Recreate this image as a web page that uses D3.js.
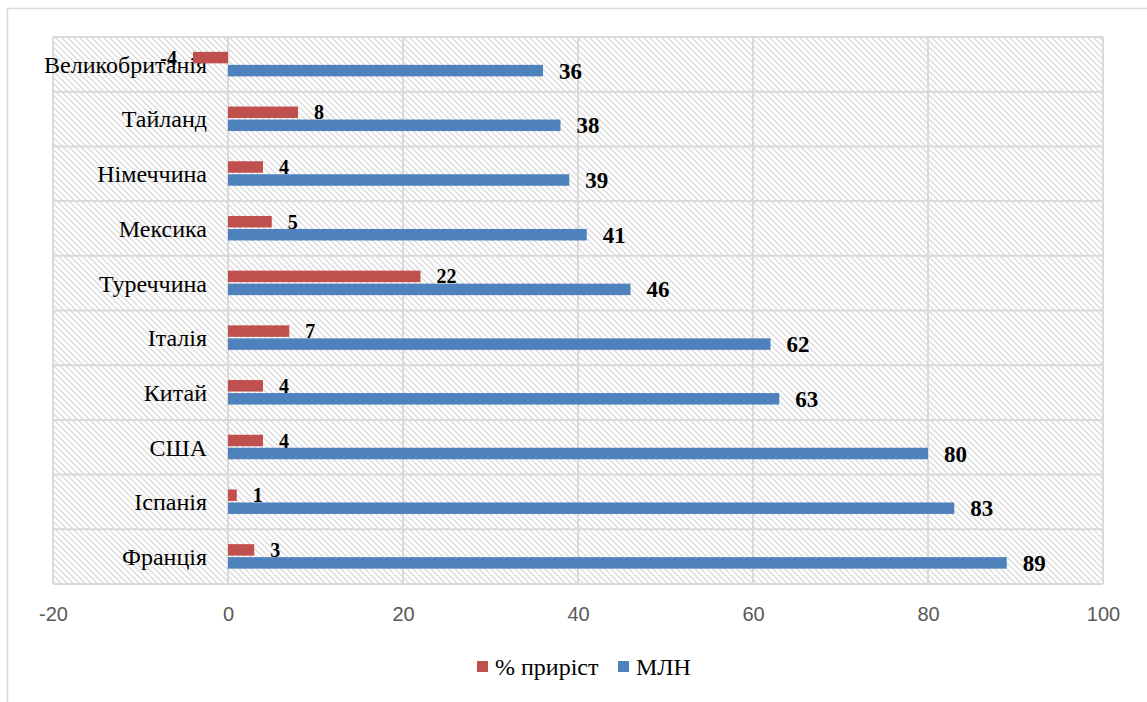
<!DOCTYPE html>
<html><head><meta charset="utf-8">
<script src="https://cdn.jsdelivr.net/npm/d3@7"></script>
<style>body{margin:0;background:#fff}svg{display:block}</style>
</head><body>
<script>
const categories = ["Великобританія","Тайланд","Німеччина","Мексика","Туреччина","Італія","Китай","США","Іспанія","Франція"];
const growth = [-4, 8, 4, 5, 22, 7, 4, 4, 1, 3];
const mln = [36, 38, 39, 41, 46, 62, 63, 80, 83, 89];
const seriesNames = ["% приріст", "МЛН"];
const colors = ["#c0504d", "#4f81bd"];
const xTicks = [-20, 0, 20, 40, 60, 80, 100];

const W = 1147, H = 702;
const svg = d3.select("body").append("svg").attr("width", W).attr("height", H);

// hatch pattern
const defs = svg.append("defs");
const pat = defs.append("pattern").attr("id","hatch").attr("patternUnits","userSpaceOnUse")
  .attr("width",6).attr("height",6);
pat.append("rect").attr("width",6).attr("height",6).attr("fill","#fff");
pat.append("path").attr("d","M-1,-1 L7,7 M-4,2 L1,7 M2,-4 L7,1")
  .attr("stroke","#dcdcdc").attr("stroke-width",1.4);

// outer border
svg.append("rect").attr("x",7.5).attr("y",8.5).attr("width",W+10).attr("height",H+10)
  .attr("fill","none").attr("stroke","#d9d9d9").attr("stroke-width",1.5);

const pLeft = 53, pRight = 1103, pTop = 37, pBottom = 584;
const x = d3.scaleLinear().domain([-20, 100]).range([pLeft, pRight]);
const y = d3.scaleBand().domain(categories).range([pTop, pBottom]).paddingInner(0).paddingOuter(0);

svg.append("rect").attr("x",pLeft).attr("y",pTop).attr("width",pRight-pLeft).attr("height",pBottom-pTop)
  .attr("fill","url(#hatch)");

// grid
const g = svg.append("g");
g.selectAll("line.v").data(xTicks).join("line")
  .attr("x1",d=>x(d)).attr("x2",d=>x(d)).attr("y1",pTop).attr("y2",pBottom)
  .attr("stroke","#d9d9d9").attr("stroke-width",2);
const hLines = categories.map(c=>y(c)).concat([pBottom]);
g.selectAll("line.h").data(hLines).join("line")
  .attr("x1",pLeft).attr("x2",pRight).attr("y1",d=>d).attr("y2",d=>d)
  .attr("stroke","#d9d9d9").attr("stroke-width",2);

// x axis tick labels
const xAxis = d3.axisBottom(x).tickValues(xTicks).tickFormat(d=>String(d)).tickSize(0).tickPadding(0);
const ax = svg.append("g").attr("transform",`translate(0,${pBottom})`).call(xAxis);
ax.select(".domain").remove();
ax.selectAll("text").attr("y",23).attr("dy","0.71em")
  .style("font-family","'Liberation Sans', Arial, sans-serif").style("font-size","20px").attr("fill","#595959");

// category labels
svg.selectAll("text.cat").data(categories).join("text")
  .attr("x",207).attr("y",d=>y(d)+y.bandwidth()/2).attr("dy","0.35em")
  .attr("text-anchor","end")
  .style("font-family","'Liberation Serif','Times New Roman',serif").style("font-size","24px")
  .attr("fill","#000").text(d=>d);

const bh = 11.5;
const series = [growth, mln];
const offsets = [-12.5, 0.5];
const labelSize = ["20px","23px"];
series.forEach((vals, si) => {
  const data = categories.map((c,i)=>({c, v: vals[i]}));
  svg.append("g").selectAll("rect").data(data).join("rect")
    .attr("x",d=>x(Math.min(0,d.v))).attr("width",d=>Math.abs(x(d.v)-x(0)))
    .attr("y",d=>y(d.c)+y.bandwidth()/2+offsets[si]).attr("height",bh)
    .attr("fill",colors[si]);
  svg.append("g").selectAll("text").data(data).join("text")
    .attr("x",d=> d.v>=0 ? x(d.v)+16 : x(d.v)-16)
    .attr("text-anchor",d=> d.v>=0 ? "start" : "end")
    .attr("y",d=>y(d.c)+y.bandwidth()/2+offsets[si]+bh/2).attr("dy","0.35em")
    .style("font-family","'Liberation Serif','Times New Roman',serif").style("font-size",labelSize[si])
    .style("font-weight","bold").attr("fill","#000").text(d=>d.v);
});

// legend
const leg = svg.append("g");
const legItems = [{n:seriesNames[0], c:colors[0], x:477},{n:seriesNames[1], c:colors[1], x:618}];
legItems.forEach(it=>{
  leg.append("rect").attr("x",it.x).attr("y",661).attr("width",11).attr("height",11).attr("fill",it.c);
  leg.append("text").attr("x",it.x+18).attr("y",666.5).attr("dy","0.35em")
    .style("font-family","'Liberation Serif','Times New Roman',serif").style("font-size","24px")
    .attr("fill","#000").text(it.n);
});
</script>
</body></html>
